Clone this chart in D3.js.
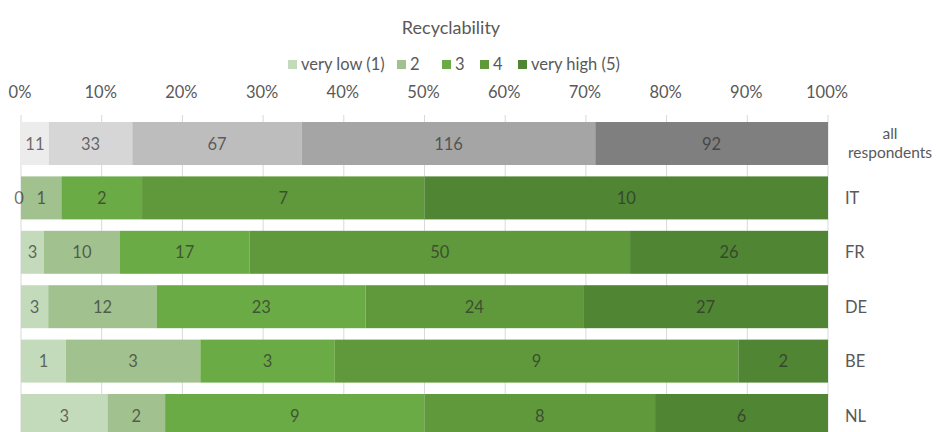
<!DOCTYPE html>
<html>
<head>
<meta charset="utf-8">
<script src="https://cdn.jsdelivr.net/npm/d3@7"></script>
<style>
  html, body { margin: 0; padding: 0; background: #fff; }
  svg { display: block; font-family: Lato, "Open Sans", sans-serif; }
</style>
</head>
<body>
<svg id="chart" width="938" height="432"></svg>
<script>
const title = "Recyclability";
const categories = ["all respondents", "IT", "FR", "DE", "BE", "NL"];
const seriesNames = ["very low (1)", "2", "3", "4", "very high (5)"];
const allRespondents = [11, 33, 67, 116, 92];
const IT = [0, 1, 2, 7, 10];
const FR = [3, 10, 17, 50, 26];
const DE = [3, 12, 23, 24, 27];
const BE = [1, 3, 3, 9, 2];
const NL = [3, 2, 9, 8, 6];
const tickValues = [0, 0.1, 0.2, 0.3, 0.4, 0.5, 0.6, 0.7, 0.8, 0.9, 1.0];

const rowsData = [allRespondents, IT, FR, DE, BE, NL];
const greens = ["#c4dbbb", "#a1c18e", "#6aab45", "#5f993b", "#4f8533"];
const grays = ["#ececec", "#d6d6d6", "#bdbdbd", "#a5a5a5", "#7f7f7f"];
const FS = 16.5;

const svg = d3.select("#chart");
const x = d3.scaleLinear().domain([0, 1]).range([21, 828]);
const y = d3.scaleBand().domain(categories).range([116.3, 442.7]).paddingInner(0.21).paddingOuter(0.105);

// title
svg.append("text").attr("x", 451).attr("y", 34).attr("text-anchor", "middle")
  .attr("font-size", 18).attr("fill", "#595959").text(title);

// legend
const legendX = [288, 397, 442, 480, 518];
seriesNames.forEach((n, i) => {
  const g = svg.append("g").attr("transform", `translate(${legendX[i]},0)`);
  g.append("rect").attr("x", 0).attr("y", 60).attr("width", 9).attr("height", 9).attr("fill", greens[i]);
  g.append("text").attr("x", 13).attr("y", 70).attr("font-size", FS).attr("fill", "#595959").text(n);
});

// gridlines
svg.append("g").selectAll("line").data(tickValues).join("line")
  .attr("x1", d => x(d)).attr("x2", d => x(d))
  .attr("y1", 115).attr("y2", 432)
  .attr("stroke", "#d9d9d9").attr("stroke-width", 1);

// top axis
const axis = d3.axisTop(x).tickValues(tickValues).tickFormat(d3.format(".0%")).tickSize(0).tickPadding(0);
const ag = svg.append("g").attr("transform", "translate(-1.5,98)").call(axis);
ag.select(".domain").remove();
ag.selectAll("text").attr("font-size", FS).attr("fill", "#595959").attr("font-family", "Lato, 'Open Sans', sans-serif");

// bars
categories.forEach((cat, ci) => {
  const vals = rowsData[ci];
  const total = d3.sum(vals);
  const colors = ci === 0 ? grays : greens;
  let cum = 0;
  const segs = vals.map((v, i) => {
    const s = { v, i, x0: cum / total, x1: (cum + v) / total };
    cum += v;
    return s;
  });
  const g = svg.append("g");
  g.selectAll("rect").data(segs).join("rect")
    .attr("x", d => x(d.x0)).attr("width", d => x(d.x1) - x(d.x0))
    .attr("y", y(cat)).attr("height", y.bandwidth())
    .attr("fill", d => colors[d.i]);
  g.selectAll("text").data(segs).join("text")
    .attr("x", d => (x(d.x0) + x(d.x1)) / 2 - (d.v === 0 ? 2 : 0))
    .attr("y", y(cat) + y.bandwidth() / 2 + 6)
    .attr("text-anchor", "middle").attr("font-size", FS)
    .attr("fill", "#2a2a2a").attr("fill-opacity", 0.68)
    .text(d => d.v);
  // category label
  if (cat === "all respondents") {
    const t = svg.append("text").attr("text-anchor", "middle").attr("font-size", 15.5).attr("fill", "#595959");
    t.append("tspan").attr("x", 890).attr("y", 139).text("all");
    t.append("tspan").attr("x", 890).attr("y", 158).text("respondents");
  } else {
    svg.append("text").attr("x", 845).attr("y", y(cat) + y.bandwidth() / 2 + 6)
      .attr("font-size", FS).attr("fill", "#595959").text(cat);
  }
});
</script>
</body>
</html>
